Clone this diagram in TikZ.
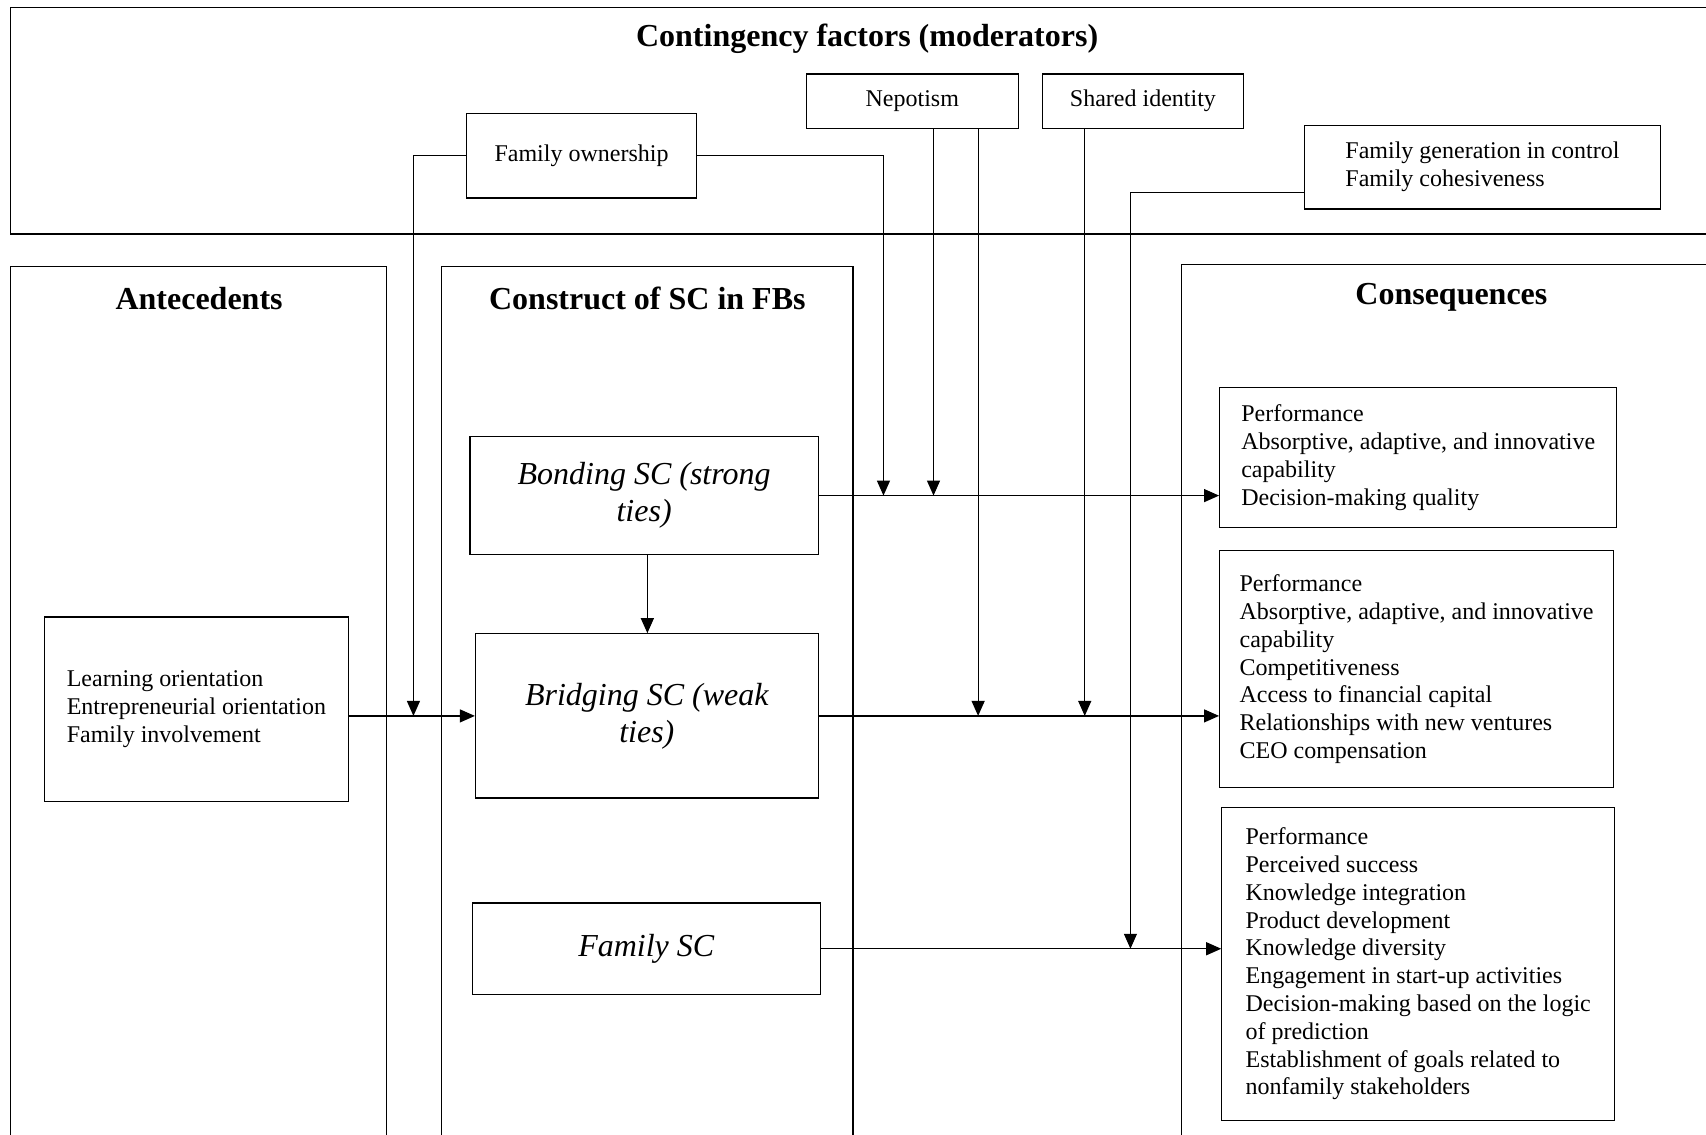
\documentclass[tikz,border=0pt]{standalone}
\usepackage{fontspec}
\setmainfont{Liberation Serif}
\usetikzlibrary{arrows.meta}
\def\u{0.544pt}
\tikzset{
  box/.style={draw, line width=0.6pt, inner sep=0pt, font=\fontsize{12}{13.9}\selectfont, align=left},
  ibox/.style={draw, line width=0.6pt, inner sep=0pt, font=\fontsize{16}{18.5}\selectfont\itshape, align=center},
  ttl/.style={font=\fontsize{16}{19}\selectfont\bfseries},
  frame/.style={line width=0.6pt},
  arr/.style={line width=0.6pt, -{Triangle[length=7.5pt,width=6.5pt]}}
}
\begin{document}
\begin{tikzpicture}[x=\u,y=-\u]
\useasboundingbox (0,0) rectangle (1568,1043);
% large frames
\draw[frame] (1568,7) -- (10,7) -- (10,215) -- (1568,215);
\draw[frame] (10,1043) -- (10,245) -- (355,245) -- (355,1043);
\draw[frame] (406,1043) -- (406,245) -- (784,245) -- (784,1043);
\draw[frame] (1568,243) -- (1086,243) -- (1086,1043);
% titles
\node[ttl] (tcont) at (797,36) {Contingency factors (moderators)};
\node[ttl] (tant) at (183,274) {Antecedents};
\node[ttl] (tcon) at (595,274) {Construct of SC in FBs};
\node[ttl] (tcq) at (1334,273) {Consequences};
% moderators
\node[box, minimum width=211*\u, minimum height=78*\u] (fo) at (534.5,143) {Family ownership};
\node[box, minimum width=195*\u, minimum height=50*\u] (nep) at (838.5,93) {Nepotism};
\node[box, minimum width=185*\u, minimum height=50*\u] (si) at (1050.5,93) {Shared identity};
\node[box, minimum width=327*\u, minimum height=77*\u] (fg) at (1362.5,153.5) {Family generation in control\\Family cohesiveness};
% antecedents
\node[box, minimum width=279*\u, minimum height=170*\u] (learn) at (180.5,652) {Learning orientation\\Entrepreneurial orientation\\Family involvement};
% construct
\node[ibox, minimum width=320*\u, minimum height=109*\u] (bond) at (592,455.5) {Bonding SC (strong\\ties)};
\node[ibox, minimum width=315*\u, minimum height=151*\u] (bridge) at (594.5,658) {Bridging SC (weak\\ties)};
\node[ibox, minimum width=320*\u, minimum height=84*\u] (famsc) at (594,872) {Family SC};
% consequences
\node[box, minimum width=365*\u, minimum height=129*\u] (c1) at (1303.5,420.5) {Performance\\Absorptive, adaptive, and innovative\\capability\\Decision-making quality};
\node[box, minimum width=362*\u, minimum height=218*\u] (c2) at (1302,615) {Performance\\Absorptive, adaptive, and innovative\\capability\\Competitiveness\\Access to financial capital\\Relationships with new ventures\\CEO compensation};
\node[box, minimum width=361*\u, minimum height=288*\u] (c3) at (1303.5,886) {Performance\\Perceived success\\Knowledge integration\\Product development\\Knowledge diversity\\Engagement in start-up activities\\Decision-making based on the logic\\of prediction\\Establishment of goals related to\\nonfamily stakeholders};
% coordinates for moderator lines
\coordinate (xa) at (380,0);
\coordinate (xb) at (812,0);
\coordinate (xc) at (858,0);
\coordinate (xd) at (899,0);
\coordinate (xe) at (997,0);
\coordinate (xf) at (1039,177);
\coordinate (xg) at (595,0);
% main arrows
\draw[arr] (learn.east |- bridge.west) -- (bridge.west);
\draw[arr] (bond.south -| xg) -- (bridge.north -| xg);
\draw[arr] (bond.east) -- (bond.east -| c1.west);
\draw[arr] (bridge.east) -- (bridge.east -| c2.west);
\draw[arr] (famsc.east) -- (famsc.east -| c3.west);
% moderator arrows
\draw[arr] (fo.west) -| (xa |- bridge.west);
\draw[arr] (fo.east) -| (xb |- bond.east);
\draw[arr] (nep.south -| xc) -- (xc |- bond.east);
\draw[arr] (nep.south -| xd) -- (xd |- bridge.east);
\draw[arr] (si.south -| xe) -- (xe |- bridge.east);
\draw[arr] (fg.west |- xf) -- (xf) -- (xf |- famsc.east);
\end{tikzpicture}
\end{document}
